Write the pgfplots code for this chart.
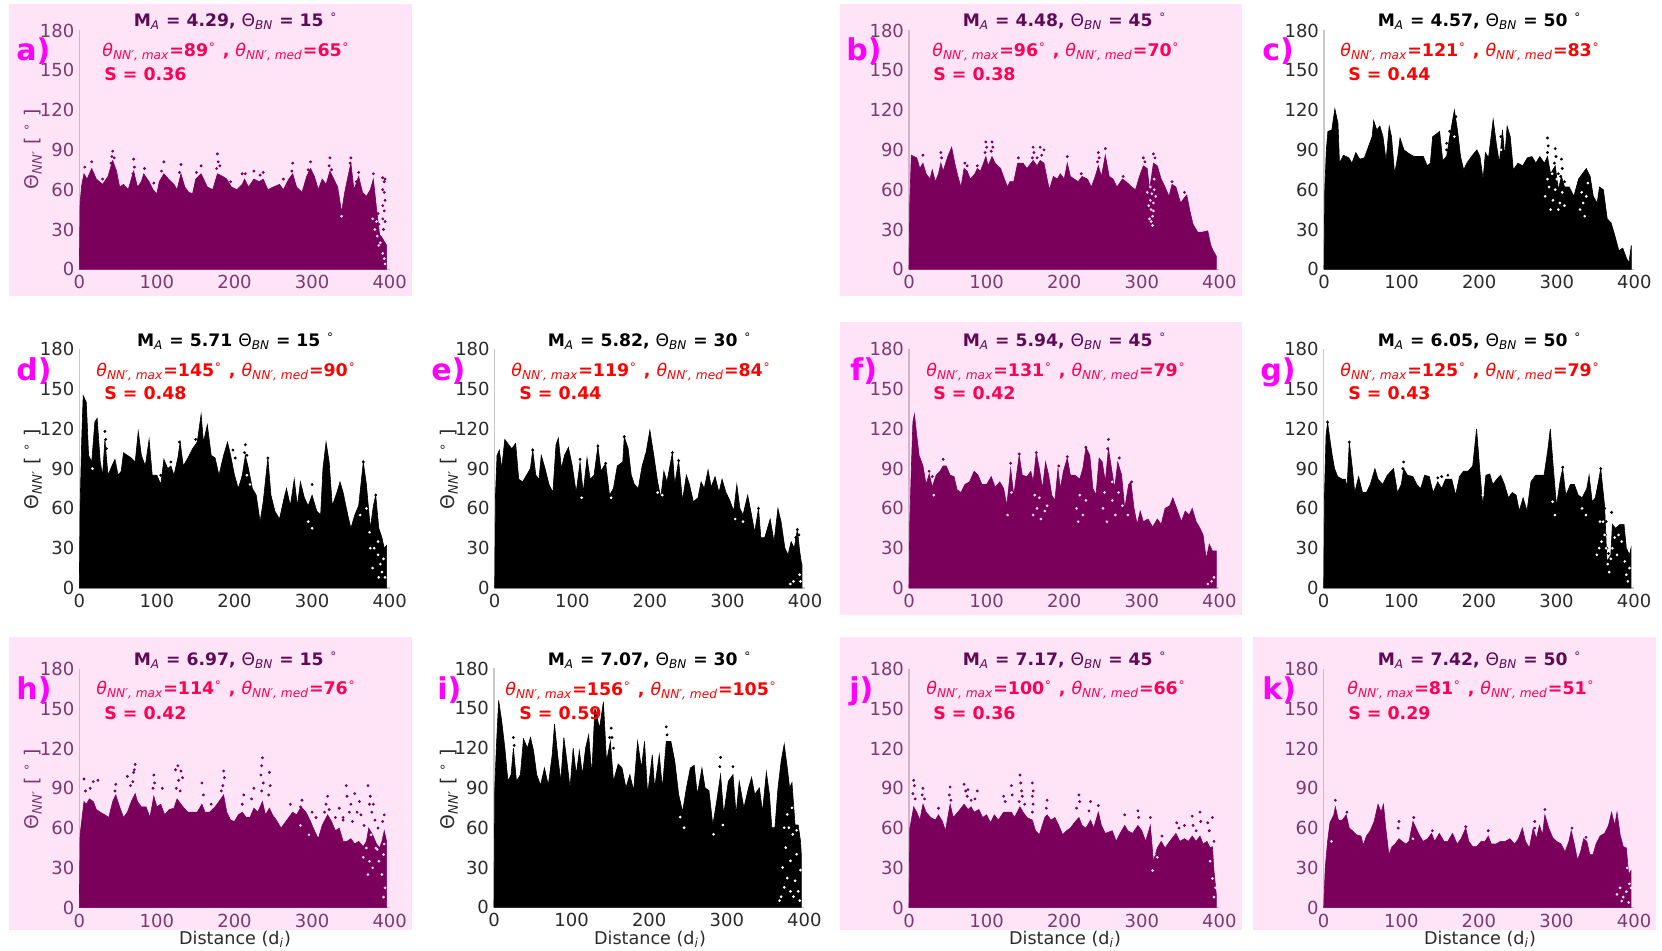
\documentclass[border=0pt]{standalone}
\usepackage{pgfplots}
\pgfplotsset{compat=1.18}
\usepackage{fontspec}
\setmainfont{DejaVu Sans}
\definecolor{plum}{HTML}{7B005B}
\definecolor{pinkbg}{HTML}{FFE4F7}
\definecolor{tickp}{HTML}{7A3A70}
\definecolor{tickb}{HTML}{2A2A2A}
\definecolor{titp}{HTML}{5E0A55}
\definecolor{redp}{HTML}{FF0055}
\definecolor{purered}{HTML}{FF0000}
\definecolor{puremag}{HTML}{FF00FF}
\definecolor{spinep}{HTML}{D4B4CC}
\definecolor{spineb}{HTML}{C8C8C8}
\newcommand\panel[9]{% x0,y0,fill,tickcolor,spine,envelope,dots,background,speckles
\begin{axis}[at={(#1*0.5pt,-#2*0.5pt)},anchor=south west,scale only axis,
 width=155.2pt,height=119.4pt,xmin=0,xmax=400,ymin=0,ymax=180,
 axis lines=left,axis line style={#5,-,line width=0.6pt},
 xtick={0,100,200,300,400},ytick={0,30,60,90,120,150,180},
 major tick length=0pt,clip=false,
 /pgf/number format/assume math mode=true,
 tick label style={font=\fontsize{9}{10}\selectfont,text=#4},
 xticklabel style={yshift=0.5pt},yticklabel style={xshift=1pt}]
\addplot[fill=#3,draw=#3,line width=0.3pt] coordinates {#6} \closedcycle;
\addplot[only marks,mark=*,mark size=0.5pt,color=#3] coordinates {#7};
\addplot[only marks,mark=*,mark size=0.45pt,color=#8] coordinates {#9};
\end{axis}}
\newcommand\ttl[3]{\textbf{M}\textsubscript{\itshape A}\textbf{ = #1#3 }Θ\textsubscript{\itshape BN}\textbf{ = #2 }\textsuperscript{∘}}
\newcommand\sbt[2]{\textit{θ}\textsubscript{\itshape NN′, max}\textbf{=#1}\textsuperscript{∘}\textbf{ , }\textit{θ}\textsubscript{\itshape NN′, med}\textbf{=#2}\textsuperscript{∘}}
\newcommand\txt[9]{% title x,y | sub x,y | S x,y | letter x, letter, S value
 \node[anchor=base,inner sep=0pt,text=\tc,font=\fontsize{8.6}{10}\selectfont] at (#1,#2+6.5) {\thetitle};
 \node[anchor=base west,inner sep=0pt,text=\sc,font=\fontsize{8.7}{10}\selectfont] at (#3,#4+6.5) {\thesub};
 \node[anchor=base west,inner sep=0pt,text=\sc,font=\fontsize{8.7}{10}\bfseries\selectfont] at (#5,#6+6.5) {S = #9};
 \node[anchor=base west,inner sep=0pt,text=puremag,font=\fontsize{15}{17}\bfseries\selectfont] at (#7,#2+41) {#8};}
\newcommand\ylab[3]{\node[rotate=90,inner sep=0pt,text=#3,font=\fontsize{9.4}{11}\selectfont] at (#1,#2) {Θ\textsubscript{\itshape NN′} [ \textsuperscript{∘} ]};}
\newcommand\xlab[1]{\node[inner sep=0pt,text=tickb,font=\fontsize{8.8}{10}\selectfont] at (#1,939) {Distance (d\textsubscript{\itshape i})};}
\begin{document}
\begin{tikzpicture}
\begin{scope}[x=0.5pt,y=-0.5pt]
\path[use as bounding box] (0,0) rectangle (1662,951);
\fill[pinkbg] (9,4) rectangle (412,296);
\fill[pinkbg] (840,4) rectangle (1242,296);
\fill[pinkbg] (840,322) rectangle (1242,615);
\fill[pinkbg] (9,637) rectangle (412,930);
\fill[pinkbg] (840,637) rectangle (1242,930);
\fill[pinkbg] (1253,637) rectangle (1656,930);
\end{scope}
% a
\panel{79.3}{269.3}{plum}{tickp}{spinep}{(0,0)(1,50)(3,63)(6,72)(10,68)(16,76)(22,68)(30,64)(37,70)(43,82)(48,74)(52,62)(57,64)(63,60)(70,74)(75,62)(80,66)(83,72)(90,66)(95,60)(100,57)(103,66)(109,72)(115,68)(122,64)(126,60)(131,72)(136,62)(141,58)(146,57)(150,68)(157,72)(165,62)(172,60)(178,72)(185,70)(190,68)(196,62)(203,60)(210,64)(213,68)(218,62)(225,68)(232,66)(237,68)(243,60)(250,62)(258,64)(263,60)(270,68)(275,72)(280,62)(287,58)(293,70)(298,76)(303,70)(308,60)(313,68)(318,64)(323,74)(328,68)(333,62)(338,43)(342,58)(347,72)(350,80)(354,60)(360,70)(365,58)(370,55)(375,60)(379,68)(383,46)(387,26)(390,24)(396,18)}{(391,69)(393,66)(394,68)(391,60)(393,58)(394,52)(391,48)(393,44)(391,38)(394,36)(392,30)(43,89)(42,85)(45,84)(41,80)(178,87)(179,81)(177,76)(181,78)(275,80)(274,74)(70,83)(71,77)(69,72)(323,84)(322,78)(325,75)(350,84)(349,80)(131,79)(129,73)(109,81)(106,74)(157,78)(210,72)(225,74)(237,73)(295,75)(298,81)(16,81)(7,77)(84,76)(151,73)(214,72)(233,71)(263,68)(360,73)(379,72)(357,66)(30,68)(96,65)(195,66)(385,42)(386,34)}{pinkbg}{(381,30)(384,25)(378,38)(383,36)(386,18)(388,20)(391,12)(393,8)(394,4)(338,40)}
% b
\panel{909}{269.3}{plum}{tickp}{spinep}{(0,0)(1,50)(3,86)(10,84)(14,76)(18,80)(22,72)(27,68)(30,75)(34,66)(38,72)(41,80)(44,74)(50,85)(55,92)(59,80)(63,70)(67,62)(71,76)(75,74)(79,68)(85,72)(88,76)(92,74)(96,80)(99,85)(102,78)(107,85)(111,80)(118,76)(123,68)(127,62)(130,66)(135,66)(140,80)(147,80)(152,76)(160,82)(165,78)(169,82)(174,80)(178,68)(181,60)(186,70)(191,68)(195,72)(200,68)(204,80)(208,70)(213,68)(218,66)(223,70)(230,68)(235,62)(240,70)(244,78)(248,70)(253,86)(258,70)(263,68)(268,62)(275,68)(280,66)(287,62)(292,60)(297,70)(302,78)(307,76)(310,60)(315,80)(320,78)(325,68)(330,62)(335,55)(339,64)(344,62)(350,50)(355,54)(358,56)(362,44)(366,34)(372,28)(378,28)(385,29)(389,18)(392,14)(396,10)}{(99,96)(100,92)(98,88)(107,96)(108,92)(106,89)(41,88)(42,84)(160,92)(161,88)(159,84)(169,92)(174,90)(171,86)(165,84)(244,88)(245,84)(243,81)(253,91)(302,84)(304,81)(315,87)(317,84)(204,85)(18,86)(72,80)(141,84)(75,78)(339,66)(355,58)(88,78)(222,72)(276,70)}{pinkbg}{(310,38)(312,45)(314,40)(311,52)(315,50)(313,57)(316,60)(309,48)(314,33)(318,55)(312,36)(315,44)(307,58)(311,62)(316,68)}
% c
\panel{1324}{269.3}{black}{tickb}{spineb}{(0,0)(1,60)(3,90)(5,104)(10,105)(14,121)(18,110)(20,80)(25,86)(32,84)(36,80)(41,88)(46,83)(52,84)(57,92)(62,100)(64,112)(68,105)(72,108)(76,100)(80,82)(84,108)(87,100)(91,72)(95,85)(98,99)(103,90)(110,87)(116,85)(122,85)(128,85)(133,78)(137,80)(140,100)(145,102)(149,104)(153,82)(158,85)(162,100)(168,120)(172,105)(176,85)(180,75)(184,80)(190,85)(197,90)(201,85)(205,68)(208,88)(212,84)(218,113)(222,95)(226,80)(230,105)(233,85)(236,108)(240,100)(244,75)(250,80)(256,78)(262,84)(268,85)(273,80)(278,85)(284,80)(288,85)(292,72)(298,78)(302,60)(306,70)(310,62)(316,62)(322,55)(328,68)(333,72)(338,76)(343,70)(347,55)(352,50)(355,62)(360,60)(365,38)(370,35)(375,25)(380,14)(385,16)(390,8)(393,5)(396,18)}{(288,99)(289,93)(288,88)(298,91)(299,85)(297,80)(306,83)(307,76)(305,70)(162,104)(158,95)(158,90)(295,70)(302,72)(310,66)(228,100)(170,115)}{white}{(285,55)(290,62)(295,52)(298,60)(292,45)(300,68)(304,50)(307,58)(288,68)(294,72)(330,45)(334,50)(336,40)(332,58)(338,55)(302,45)(310,48)(340,65)(228,90)(168,100)}
% d
\panel{79.3}{588}{black}{tickb}{spineb}{(0,0)(1,60)(3,110)(5,145)(9,140)(12,100)(16,95)(20,125)(23,128)(27,95)(30,85)(33,112)(37,85)(42,92)(46,97)(50,85)(54,88)(57,102)(62,100)(67,98)(72,95)(76,118)(80,100)(85,92)(90,112)(94,85)(100,85)(105,78)(109,97)(114,90)(118,92)(122,85)(127,98)(130,110)(134,92)(140,98)(146,105)(152,110)(157,131)(160,110)(165,123)(170,100)(175,98)(180,85)(186,100)(191,110)(195,100)(200,85)(205,75)(210,85)(214,100)(218,90)(223,75)(228,70)(233,50)(237,65)(243,98)(247,70)(252,58)(258,52)(264,68)(267,75)(272,62)(277,82)(281,62)(285,80)(290,68)(295,62)(300,70)(306,58)(311,55)(314,90)(318,110)(322,95)(326,62)(332,72)(336,80)(340,72)(346,55)(350,45)(355,55)(360,62)(366,95)(370,78)(375,45)(379,62)(382,70)(386,45)(390,38)(393,30)(396,32)}{(33,118)(34,112)(35,105)(214,108)(213,102)(216,100)(150,112)(129,110)(198,104)(243,98)(366,95)(382,70)(300,78)(201,98)(118,95)(105,85)}{white}{(14,105)(17,90)(380,30)(385,25)(388,18)(390,12)(392,22)(394,8)(375,30)(378,15)(385,35)(295,50)(300,45)(386,8)(370,60)(374,42)(362,55)(216,85)(220,78)}
% e
\panel{494.7}{588}{black}{tickb}{spineb}{(0,0)(1,70)(3,100)(6,104)(9,90)(13,112)(18,108)(22,105)(27,109)(31,82)(36,80)(41,85)(46,90)(49,104)(53,85)(57,82)(60,100)(64,92)(70,78)(75,72)(79,108)(82,113)(86,90)(90,100)(95,106)(100,92)(105,72)(110,95)(114,72)(119,98)(123,82)(128,85)(133,107)(137,88)(143,94)(148,70)(153,75)(158,92)(165,95)(167,114)(172,105)(176,85)(180,78)(185,75)(190,92)(195,102)(200,119)(205,100)(210,80)(214,68)(218,88)(222,80)(229,102)(232,78)(237,96)(242,66)(247,85)(251,78)(256,65)(262,68)(266,80)(270,75)(275,89)(279,76)(284,84)(289,72)(293,82)(298,72)(303,66)(308,58)(312,78)(316,60)(320,55)(326,70)(331,55)(335,42)(340,60)(343,38)(348,38)(355,52)(360,35)(365,60)(369,50)(374,30)(378,25)(382,35)(386,30)(390,44)(393,28)(395,20)(396,18)}{(49,104)(133,107)(167,114)(229,102)(237,96)(340,60)(390,44)(110,97)(143,94)(195,100)(392,40)(388,38)}{white}{(210,72)(216,70)(320,50)(310,52)(393,10)(394,5)(385,5)(381,3)(150,68)(112,68)}
% f
\panel{909}{588}{plum}{tickp}{spinep}{(0,0)(1,50)(3,90)(5,125)(7,131)(10,115)(13,100)(18,92)(22,78)(26,86)(30,76)(35,85)(40,88)(44,92)(48,92)(53,85)(58,84)(62,74)(67,72)(72,78)(78,80)(84,88)(89,85)(94,78)(100,78)(106,84)(111,76)(117,80)(122,75)(126,62)(131,90)(135,70)(142,100)(146,85)(152,84)(157,88)(160,80)(164,102)(168,90)(172,75)(176,95)(180,85)(184,70)(188,66)(192,90)(195,75)(199,88)(204,98)(208,85)(214,85)(220,82)(224,90)(228,106)(233,100)(237,75)(241,70)(245,98)(249,95)(253,80)(257,105)(261,90)(265,75)(269,95)(274,85)(278,60)(283,78)(286,80)(290,60)(294,48)(298,58)(302,50)(308,52)(314,46)(320,52)(325,48)(330,60)(336,62)(340,68)(345,60)(351,50)(356,58)(361,55)(365,60)(370,50)(375,45)(379,40)(383,22)(387,33)(391,28)(396,28)}{(44,97)(131,94)(142,101)(257,112)(256,105)(271,98)(228,106)(164,102)(287,80)(204,99)(30,84)(26,88)(193,92)}{pinkbg}{(160,55)(165,60)(170,52)(168,68)(175,58)(162,70)(178,62)(216,60)(220,70)(224,55)(228,66)(218,50)(250,60)(255,50)(262,66)(266,55)(270,72)(390,5)(385,3)(393,8)(32,70)(132,72)(127,55)(275,62)(282,55)(262,80)(252,72)}
% g
\panel{1323.7}{588}{black}{tickb}{spineb}{(0,0)(1,70)(3,115)(5,125)(8,112)(11,100)(14,90)(18,84)(24,82)(28,82)(30,75)(33,110)(37,90)(40,72)(45,84)(50,72)(55,72)(60,78)(66,90)(70,82)(76,78)(82,85)(90,90)(95,72)(100,78)(103,90)(108,85)(115,84)(120,78)(125,75)(130,85)(136,84)(141,72)(147,80)(152,75)(157,82)(165,82)(170,70)(175,84)(180,88)(186,88)(192,92)(197,120)(201,90)(205,62)(209,85)(214,86)(218,78)(223,82)(228,85)(233,78)(238,68)(243,72)(248,70)(252,58)(257,68)(262,58)(267,80)(273,85)(278,85)(284,85)(289,105)(292,120)(296,90)(300,62)(305,82)(308,90)(312,70)(318,78)(323,78)(328,70)(333,68)(339,75)(342,85)(346,65)(350,68)(354,80)(357,90)(362,62)(365,20)(370,25)(372,48)(376,45)(382,48)(387,48)(390,30)(394,25)(396,30)}{(371,57)(103,95)(102,90)(5,125)(33,110)(152,84)(147,83)(160,85)(357,90)(308,91)(362,60)(364,50)(363,40)(365,30)(367,26)}{white}{(362,40)(364,30)(360,50)(366,18)(368,12)(370,22)(372,30)(375,38)(378,25)(380,40)(384,35)(388,20)(390,10)(392,5)(394,15)(358,35)(355,30)(352,25)(356,50)(295,65)(298,55)(205,70)(333,60)(338,55)}
% h
\panel{79.3}{907.7}{plum}{tickp}{spinep}{(0,0)(1,55)(3,65)(6,80)(9,78)(13,82)(18,80)(22,74)(27,72)(33,70)(38,68)(43,80)(47,85)(52,76)(57,68)(62,72)(67,80)(72,86)(75,80)(80,76)(86,76)(91,68)(96,84)(100,76)(105,78)(110,70)(116,74)(122,75)(126,82)(131,78)(135,75)(140,72)(146,72)(152,72)(158,78)(162,72)(168,72)(175,76)(180,80)(186,85)(190,72)(195,66)(200,65)(205,70)(210,72)(215,68)(220,68)(225,75)(230,72)(236,80)(240,70)(245,75)(249,70)(254,66)(260,60)(265,64)(270,68)(275,72)(280,70)(286,76)(292,72)(298,65)(303,58)(308,52)(313,62)(320,70)(325,65)(330,58)(335,60)(340,50)(345,50)(350,52)(355,48)(360,50)(366,46)(370,50)(373,60)(378,55)(383,48)(387,45)(390,50)(393,58)(396,50)}{(6,97)(18,95)(8,88)(14,90)(24,96)(47,93)(46,88)(62,99)(66,92)(70,102)(72,108)(71,104)(69,95)(96,100)(97,94)(95,90)(107,90)(124,104)(127,107)(131,103)(133,98)(128,96)(125,90)(130,88)(158,94)(160,85)(170,78)(186,103)(187,98)(185,92)(183,88)(212,85)(210,78)(225,90)(222,82)(236,113)(235,107)(234,100)(237,94)(235,88)(245,102)(246,92)(244,85)(272,78)(287,81)(285,76)(320,84)(318,78)(322,74)(316,72)(330,68)(335,75)(340,66)(344,92)(345,84)(348,72)(352,65)(355,86)(358,72)(361,80)(363,70)(367,62)(372,92)(375,84)(374,78)(379,78)(377,72)(381,66)(385,60)(393,70)(391,65)(350,78)(340,68)(305,68)(300,72)}{pinkbg}{(370,45)(374,35)(378,30)(382,45)(386,35)(390,25)(392,40)(394,15)(392,8)(388,52)(376,55)(384,44)(296,55)(285,62)(393,48)(366,38)(372,25)}
% i
\panel{494}{907.3}{black}{tickb}{spineb}{(0,0)(1,90)(3,120)(6,156)(10,140)(14,120)(18,95)(22,100)(25,120)(29,95)(34,100)(38,127)(43,120)(47,128)(51,118)(55,100)(60,92)(65,105)(70,92)(75,115)(78,138)(82,115)(86,95)(90,128)(94,110)(98,90)(102,120)(106,100)(110,118)(114,100)(118,120)(122,130)(126,100)(130,150)(136,135)(141,155)(145,110)(150,125)(154,95)(160,108)(165,105)(170,90)(175,100)(180,88)(185,125)(190,105)(194,125)(198,85)(204,115)(207,90)(213,115)(217,90)(222,125)(228,125)(233,110)(238,85)(243,72)(248,90)(253,105)(258,107)(262,85)(268,105)(272,90)(277,88)(282,62)(287,80)(292,100)(296,70)(302,95)(308,100)(312,70)(316,95)(322,75)(328,90)(332,98)(336,85)(342,90)(346,72)(351,102)(355,85)(358,60)(362,60)(366,90)(370,110)(374,123)(378,105)(381,90)(384,94)(388,62)(392,62)(395,50)(396,40)}{(222,136)(223,130)(151,135)(152,128)(292,113)(291,106)(308,106)(154,120)(149,128)(25,128)(26,122)}{white}{(370,8)(374,15)(372,30)(378,22)(376,45)(382,35)(385,55)(380,60)(388,20)(390,40)(392,12)(395,28)(386,8)(382,12)(368,5)(374,60)(390,58)(378,70)(384,75)(394,5)(240,68)(245,60)(283,55)(295,62)}
% j
\panel{909}{907.7}{plum}{tickp}{spinep}{(0,0)(1,60)(3,66)(6,76)(10,72)(14,66)(18,78)(22,72)(28,68)(34,66)(38,70)(43,65)(47,58)(50,68)(53,78)(57,68)(63,72)(71,78)(76,74)(80,76)(84,72)(90,74)(95,68)(100,70)(105,64)(110,70)(115,66)(122,72)(125,72)(132,72)(136,68)(143,76)(147,72)(152,68)(159,66)(163,58)(168,55)(175,68)(178,70)(183,66)(188,68)(193,62)(198,55)(203,58)(208,60)(213,64)(219,68)(223,62)(228,60)(234,66)(238,60)(244,72)(248,62)(253,56)(262,58)(267,50)(272,56)(278,62)(282,58)(288,56)(295,62)(300,58)(305,50)(311,62)(315,35)(320,45)(325,50)(330,45)(336,50)(344,56)(349,50)(355,52)(360,50)(365,54)(370,50)(375,54)(379,48)(384,50)(388,45)(391,46)(393,28)(396,10)}{(6,96)(7,92)(5,86)(8,82)(18,90)(17,85)(20,82)(53,91)(52,85)(54,81)(71,93)(73,88)(76,89)(75,84)(88,88)(85,82)(80,81)(122,84)(124,80)(132,92)(133,85)(143,100)(144,94)(145,88)(146,84)(142,80)(149,78)(159,94)(160,88)(159,84)(160,78)(159,72)(178,81)(177,75)(219,85)(220,80)(216,75)(234,80)(232,73)(244,77)(295,73)(296,68)(278,70)(311,68)(345,64)(348,60)(355,62)(365,69)(366,62)(370,58)(375,72)(376,65)(385,64)(387,58)(391,68)(393,50)(326,54)(38,75)}{pinkbg}{(393,8)(395,15)(391,22)(320,38)(314,28)(316,40)(388,35)}
% k
\panel{1323.7}{907.7}{plum}{tickp}{spinep}{(0,0)(2,30)(5,50)(8,64)(13,70)(15,76)(19,66)(24,66)(29,70)(33,60)(37,58)(42,55)(48,54)(51,47)(55,54)(60,58)(65,65)(70,78)(74,72)(77,78)(80,60)(84,40)(88,46)(92,48)(97,52)(101,50)(106,48)(110,50)(115,65)(119,60)(123,55)(128,50)(134,52)(139,56)(143,50)(149,56)(155,50)(160,50)(166,56)(172,48)(177,52)(183,60)(187,50)(192,46)(197,46)(203,50)(208,50)(212,54)(216,48)(222,48)(228,50)(234,50)(240,52)(246,48)(251,52)(256,60)(260,50)(265,45)(270,60)(274,52)(278,62)(282,55)(285,70)(290,60)(295,53)(300,50)(306,48)(311,42)(316,50)(319,58)(323,48)(327,36)(331,42)(335,52)(339,50)(343,40)(347,40)(351,48)(356,54)(362,56)(367,62)(371,72)(375,62)(378,72)(382,55)(386,46)(390,45)(393,25)(396,28)}{(97,65)(96,60)(15,81)(285,74)(116,68)(272,65)(272,60)(183,61)(140,58)(212,58)(30,72)(320,60)(338,53)}{pinkbg}{(378,10)(382,15)(386,8)(390,12)(393,4)(394,18)(384,5)(391,30)(396,15)(10,50)(115,52)}
\begin{scope}[x=0.5pt,y=-0.5pt]
\def\tc{titp}\def\sc{redp}
\def\thetitle{\ttl{4.29}{15}{,}}\def\thesub{\sbt{89}{65}}\txt{236}{20}{102}{50}{104}{74}{16}{a)}{0.36}
\def\thetitle{\ttl{4.48}{45}{,}}\def\thesub{\sbt{96}{70}}\txt{1065}{20}{932}{50}{933}{74}{846}{b)}{0.38}
\def\thetitle{\ttl{5.94}{45}{,}}\def\thesub{\sbt{131}{79}}\txt{1065}{340}{926}{370}{933}{393}{850}{f)}{0.42}
\def\thetitle{\ttl{6.97}{15}{,}}\def\thesub{\sbt{114}{76}}\txt{236}{659}{96}{688}{104}{713}{16}{h)}{0.42}
\def\thetitle{\ttl{7.17}{45}{,}}\def\thesub{\sbt{100}{66}}\txt{1065}{659}{926}{688}{933}{713}{849}{j)}{0.36}
\def\thetitle{\ttl{7.42}{50}{,}}\def\thesub{\sbt{81}{51}}\txt{1480}{659}{1347}{688}{1348}{713}{1262}{k)}{0.29}
\def\tc{black}\def\sc{purered}
\def\thetitle{\ttl{4.57}{50}{,}}\def\thesub{\sbt{121}{83}}\txt{1480}{20}{1340}{50}{1348}{74}{1262}{c)}{0.44}
\def\thetitle{\ttl{5.71}{15}{}}\def\thesub{\sbt{145}{90}}\txt{236}{340}{96}{370}{104}{393}{16}{d)}{0.48}
\def\thetitle{\ttl{5.82}{30}{,}}\def\thesub{\sbt{119}{84}}\txt{650}{340}{511}{370}{519}{393}{431}{e)}{0.44}
\def\thetitle{\ttl{6.05}{50}{,}}\def\thesub{\sbt{125}{79}}\txt{1480}{340}{1340}{370}{1348}{393}{1260}{g)}{0.43}
\def\thetitle{\ttl{7.07}{30}{,}}\def\thesub{\sbt{156}{105}}\txt{650}{659}{505}{689}{519}{713}{437}{i)}{0.59}
\ylab{33}{149}{tickp}
\ylab{33}{469}{tickb}
\ylab{449}{469}{tickb}
\ylab{33}{789}{tickp}
\ylab{449}{789}{tickb}
\xlab{235}\xlab{650}\xlab{1065}\xlab{1480}
\end{scope}
\end{tikzpicture}
\end{document}
